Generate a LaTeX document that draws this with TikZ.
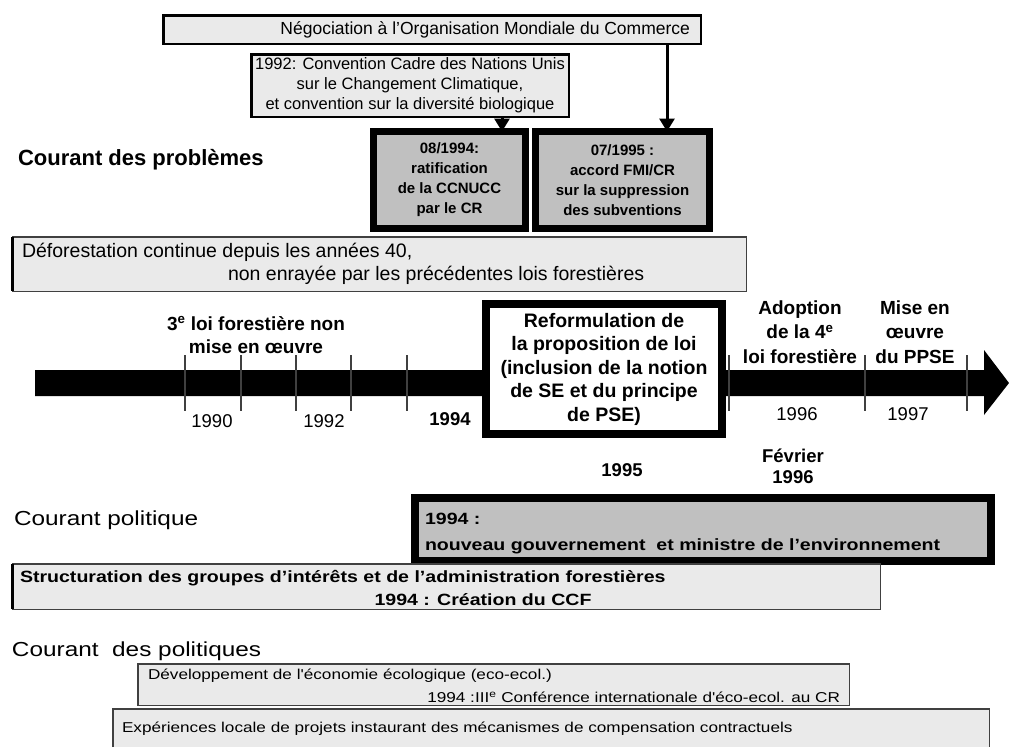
\documentclass[tikz,border=0pt]{standalone}
\usepackage{fontspec}
\setmainfont{Liberation Sans}
\newfontfamily\widefont{Liberation Sans}[FakeStretch=1.2]
\usetikzlibrary{arrows.meta}
\definecolor{boxlight}{HTML}{EAEAEA}
\definecolor{boxdark}{HTML}{C0C0C0}
\definecolor{edgegray}{HTML}{404040}
\begin{document}
\begin{tikzpicture}[x=1pt,y=-1pt,
  every node/.style={inner sep=0pt,outer sep=0pt},
  box/.style={anchor=north west},
  lbox/.style={box,draw=black,line width=2.5pt,fill=boxlight},
  dbox/.style={box,draw=black,line width=7pt,fill=boxdark},
  wbox/.style={box,draw=black,line width=8pt,fill=white},
  sbox/.style={box,draw=edgegray,line width=1.5pt,fill=boxlight},
  leftbar/.style={line width=3pt,black},
  conn/.style={line width=3pt,-{Triangle[width=15pt,length=13pt]}},
  tickline/.style={line width=1.3pt,edgegray},
  up/.style={font=\fontsize{16.5}{20}\selectfont},
  upb/.style={font=\bfseries\fontsize{15}{20}\selectfont},
  big/.style={font=\fontsize{19.5}{23}\selectfont},
  bigb/.style={font=\bfseries\fontsize{19}{23.5}\selectfont},
  head/.style={font=\bfseries\fontsize{22}{24}\selectfont},
  lowr/.style={font=\widefont\fontsize{20.3}{24}\selectfont},
  lowb/.style={font=\widefont\bfseries\fontsize{16.3}{26}\selectfont},
  lows/.style={font=\widefont\fontsize{14.3}{20}\selectfont}]
\useasboundingbox (0,0) rectangle (1009,747);

% top boxes
\node[lbox,minimum width=537.5pt,minimum height=28.5pt] (omc) at (163.25,15.25) {};
\node[up,anchor=east,font=\fontsize{17.5}{20}\selectfont] (tomc) at (690,30) {Négociation à l'Organisation Mondiale du Commerce};
\node[lbox,minimum width=317.5pt,minimum height=62.5pt] (c92) at (251.25,54.25) {};
\node[up,align=center] (t92) at (c92.center) {1992: Convention Cadre des Nations Unis\\sur le Changement Climatique,\\et convention sur la diversité biologique};

\node[dbox,minimum width=152pt,minimum height=97pt] (b94) at (373.5,131.5) {};
\node[upb,align=center] (t94) at (b94.center) {08/1994:\\ratification\\de la CCNUCC\\par le CR};
\node[dbox,minimum width=174pt,minimum height=97pt] (b95) at (535.5,131.5) {};
\node[upb,align=center] (t95) at (b95.center) {07/1995 :\\accord FMI/CR\\sur la suppression\\des subventions};

\coordinate (ax1) at (502,0);
\coordinate (ax2) at (667,0);
\draw[conn] (c92.south -| ax1) -- (b94.north -| ax1);
\draw[conn] (omc.south -| ax2) -- (b95.north -| ax2);

\node[head,anchor=west] (lprob) at (18,160) {Courant des problèmes};

\node[sbox,minimum width=733.5pt,minimum height=54.5pt] (defo) at (12.75,236.75) {};
\draw[leftbar] (defo.north west) -- (defo.south west);
\node[big,anchor=west] (tdefo1) at (22,252) {Déforestation continue depuis les années 40,};
\node[big,anchor=west] (tdefo2) at (228,275) {non enrayée par les précédentes lois forestières};

% timeline
\fill[black] (35,370) -- (984,370) -- (984,350) -- (1009,383) -- (984,415) -- (984,396) -- (35,396) -- cycle;
\foreach \x in {185,241,296,351,407,729,865,967} \draw[tickline] (\x,355) -- (\x,411);

\node[bigb,align=center] (l3) at (256,335) {3\textsuperscript{e} loi forestière non\\mise en œuvre};
\node[big,font=\fontsize{18.5}{23}\selectfont] (y90) at (212,421) {1990};
\node[big,font=\fontsize{18.5}{23}\selectfont] (y92) at (324,421) {1992};
\node[bigb,font=\bfseries\fontsize{18.5}{23}\selectfont] (y94) at (450,419) {1994};

\node[wbox,minimum width=236pt,minimum height=130pt] (reform) at (486,304) {};
\node[bigb,align=center,font=\bfseries\fontsize{19.5}{23.5}\selectfont] (treform) at (reform.center) {Reformulation de\\la proposition de loi\\(inclusion de la notion\\de SE et du principe\\de PSE)};
\node[bigb,font=\bfseries\fontsize{18.5}{23}\selectfont] (y95) at (622,470) {1995};

\node[bigb,align=center,font=\bfseries\fontsize{19}{24.5}\selectfont] (ladopt) at (800,332) {Adoption\\de la 4\textsuperscript{e}\\loi forestière};
\node[bigb,align=center,font=\bfseries\fontsize{19}{24.5}\selectfont] (lmise) at (915,332) {Mise en\\œuvre\\du PPSE};
\node[big,font=\fontsize{18.5}{23}\selectfont] (y96) at (797,414) {1996};
\node[big,font=\fontsize{18.5}{23}\selectfont] (y97) at (908,414) {1997};
\node[bigb,align=center,font=\bfseries\fontsize{18.5}{21}\selectfont] (lfev) at (793,466) {Février\\1996};

% politique
\node[lowr,anchor=west] (lpol) at (14,520) {Courant politique};
\node[wbox,draw=black,fill=boxdark,minimum width=576pt,minimum height=63pt] (pol) at (415,498) {};
\node[lowb,anchor=west,align=left] (tpol) at (425,534) {1994 :\\nouveau gouvernement\ \ et ministre de l’environnement};

\node[sbox,minimum width=867.5pt,minimum height=45.5pt] (struct) at (12.75,563.75) {};
\draw[leftbar] (struct.north west) -- (struct.south west);
\node[lowb,anchor=west] (tstruct1) at (20,578) {Structuration des groupes d’intérêts et de l’administration forestières};
\node[lowb] (tstruct2) at (483,600) {1994 : Création du CCF};

% politiques
\node[lowr,anchor=west] (lpols) at (12,651) {Courant\ \ des politiques};
\node[sbox,minimum width=711.5pt,minimum height=41.5pt] (dev) at (137.75,663.75) {};
\node[lows,anchor=west] (tdev1) at (148,676) {Développement de l'économie écologique (eco-ecol.)};
\node[lows,anchor=east] (tdev2) at (840,697) {1994 :III\textsuperscript{e} Conférence internationale d'éco-ecol. au CR};
\node[box,fill=boxlight,minimum width=876.5pt,minimum height=38.25pt] (exp) at (112.75,708.75) {};
\draw[edgegray,line width=1.5pt] (exp.south west) -- (exp.north west) -- (exp.north east) -- (exp.south east);
\node[lows,anchor=west] (texp) at (122,729) {Expériences locale de projets instaurant des mécanismes de compensation contractuels};
\end{tikzpicture}
\end{document}
